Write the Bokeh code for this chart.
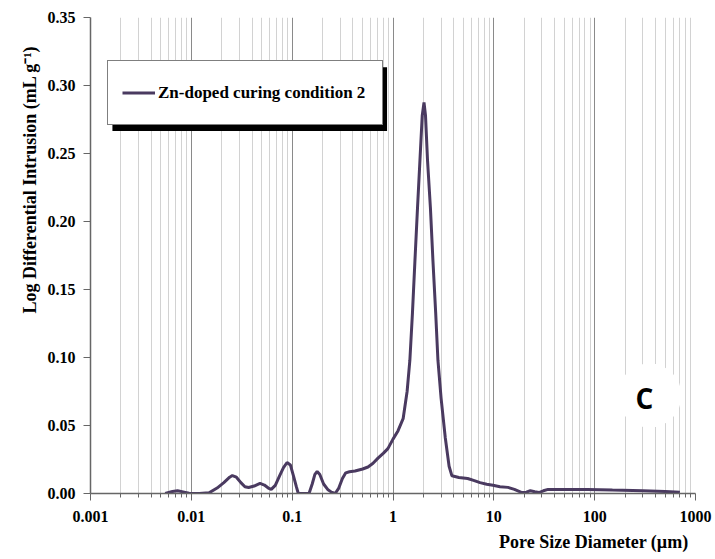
from bokeh.plotting import figure
from bokeh.models import (FixedTicker, CustomJSTickFormatter, Legend, LegendItem,
                          BoxAnnotation, Title, Range1d, Label)
from bokeh.embed import file_html
from bokeh.resources import INLINE

# ---- data ----
pore_size_um = [0.0055, 0.0065, 0.0073, 0.0085, 0.0095, 0.012, 0.015, 0.018, 0.021, 0.024,
                0.0255, 0.028, 0.031, 0.034, 0.037, 0.042, 0.048, 0.053, 0.058, 0.062,
                0.068, 0.075, 0.082, 0.089, 0.096, 0.103, 0.11, 0.115, 0.147, 0.158,
                0.168, 0.177, 0.188, 0.205, 0.225, 0.245, 0.267, 0.29, 0.315, 0.34,
                0.37, 0.42, 0.5, 0.565, 0.63, 0.71, 0.8, 0.89, 1.0, 1.12,
                1.26, 1.38, 1.47, 1.56, 1.65, 1.75, 1.85, 1.95, 2.03, 2.1,
                2.2, 2.35, 2.49, 2.65, 2.79, 3.0, 3.3, 3.6, 3.84, 4.5,
                5.5, 6.4, 7.3, 8.5, 9.8, 11.5, 13.8, 16, 19, 21,
                23, 25.5, 28, 31, 34.5, 50, 85, 150, 300, 500, 700]
log_diff_intrusion = [0.0, 0.0015, 0.002, 0.001, 0.0002, 0.0, 0.0005, 0.004, 0.008, 0.012,
                      0.0132, 0.012, 0.008, 0.005, 0.0044, 0.0055, 0.0074, 0.0062, 0.004, 0.003,
                      0.006, 0.013, 0.019, 0.0228, 0.021, 0.013, 0.005, 0.0, 0.0, 0.007,
                      0.014, 0.0162, 0.014, 0.007, 0.003, 0.001, 0.0, 0.004, 0.011, 0.0152,
                      0.016, 0.0165, 0.018, 0.0195, 0.022, 0.026, 0.0295, 0.033, 0.04, 0.046,
                      0.055, 0.075, 0.098, 0.133, 0.171, 0.21, 0.245, 0.278, 0.2875, 0.278,
                      0.245, 0.21, 0.171, 0.133, 0.098, 0.07, 0.041, 0.02, 0.013, 0.0118,
                      0.011, 0.0095, 0.008, 0.0068, 0.006, 0.005, 0.0045, 0.003, 0.0007, 0.001,
                      0.002, 0.0013, 0.0007, 0.002, 0.003, 0.003, 0.003, 0.0025, 0.002, 0.0015, 0.001]
series_name = "Zn-doped curing condition 2"

x_ticks = [0.001, 0.01, 0.1, 1, 10, 100, 1000]
x_tick_labels = ["0.001", "0.01", "0.1", "1", "10", "100", "1000"]
x_minor_ticks = [m * d for d in [0.001, 0.01, 0.1, 1, 10, 100] for m in range(2, 10)]
y_ticks = [0.0, 0.05, 0.10, 0.15, 0.20, 0.25, 0.30, 0.35]
y_tick_labels = ["0.00", "0.05", "0.10", "0.15", "0.20", "0.25", "0.30", "0.35"]
x_title = "Pore Size Diameter (\u00b5m)"
y_title = "Log Differential Intrusion (mL g\u207b\u00b9)"

panel_letter = "C"
panel_letter_pos = (312, 0.0699)
panel_disk_pos = (350, 0.072)

# ---- figure ----
SERIF = "'Liberation Serif'"
p = figure(width=715, height=559, x_axis_type="log", output_backend="svg",
           toolbar_location=None, x_range=Range1d(0.001, 1000), y_range=Range1d(0, 0.35),
           min_border_left=90, min_border_right=20, min_border_top=17, min_border_bottom=66)
p.outline_line_color = None
p.background_fill_color = "white"
p.border_fill_color = "white"

# axes
p.xaxis.ticker = FixedTicker(ticks=x_ticks, minor_ticks=x_minor_ticks)
p.xaxis.formatter = CustomJSTickFormatter(args=dict(labels=x_tick_labels, vals=x_ticks),
    code="""
    for (let i = 0; i < vals.length; i++) {
        if (Math.abs(Math.log10(vals[i]) - Math.log10(tick)) < 1e-6) return labels[i];
    }
    return "";
    """)
p.yaxis.ticker = FixedTicker(ticks=y_ticks, minor_ticks=[])
p.yaxis.formatter = CustomJSTickFormatter(args=dict(labels=y_tick_labels, vals=y_ticks),
    code="""
    for (let i = 0; i < vals.length; i++) {
        if (Math.abs(vals[i] - tick) < 1e-6) return labels[i];
    }
    return "";
    """)

for ax in (p.xaxis[0], p.yaxis[0]):
    ax.axis_line_color = "#666666"
    ax.axis_line_width = 1.5
    ax.major_tick_line_color = "#666666"
    ax.minor_tick_line_color = "#666666"
    ax.major_tick_in = 0
    ax.major_tick_out = 7
    ax.minor_tick_in = 0
    ax.minor_tick_out = 4
    ax.major_label_text_font = SERIF
    ax.major_label_text_font_style = "bold"
    ax.major_label_text_font_size = "16px"
    ax.major_label_text_color = "black"

p.xaxis.major_label_standoff = 10
p.yaxis.major_label_standoff = 8

yt = Title(text=y_title, align="left", offset=180, text_font=SERIF,
           text_font_size="18px", text_font_style="bold", text_color="black")
p.add_layout(yt, "left")
xt = Title(text=x_title, align="right", text_font=SERIF,
           text_font_size="18px", text_font_style="bold", text_color="black", offset=7)
p.add_layout(xt, "below")

# grid
p.xgrid.grid_line_color = "#8a8a8a"
p.xgrid.grid_line_width = 1
p.xgrid.minor_grid_line_color = "#d2d2d2"
p.xgrid.minor_grid_line_width = 1
p.ygrid.grid_line_color = None

# series
r = p.line(pore_size_um, log_diff_intrusion, line_color="#4a3a60", line_width=3)

# panel letter with white disk
p.scatter([panel_disk_pos[0]], [panel_disk_pos[1]], marker="circle", size=64,
          fill_color="white", line_color=None)
p.add_layout(Label(x=panel_letter_pos[0], y=panel_letter_pos[1], text=panel_letter,
                   text_font="'Open Sans'", text_font_style="bold", text_font_size="28px",
                   text_align="center", text_baseline="middle", text_color="black"))

# legend with drop shadow
shadow = BoxAnnotation(left=0.00165, right=0.873, top=0.3135, bottom=0.2665,
                       fill_color="black", fill_alpha=1.0, line_color=None)
p.add_layout(shadow)
legend = Legend(items=[LegendItem(label=series_name, renderers=[r])],
                location=(17, 368), margin=0, padding=14, spacing=0,
                glyph_width=33, glyph_height=35, label_standoff=3, label_width=210,
                border_line_color="black", border_line_width=1,
                background_fill_color="white", background_fill_alpha=1.0,
                label_text_font=SERIF, label_text_font_style="bold",
                label_text_font_size="17px", label_text_color="black")
p.add_layout(legend)

open("out.html", "w").write(file_html(p, INLINE))
